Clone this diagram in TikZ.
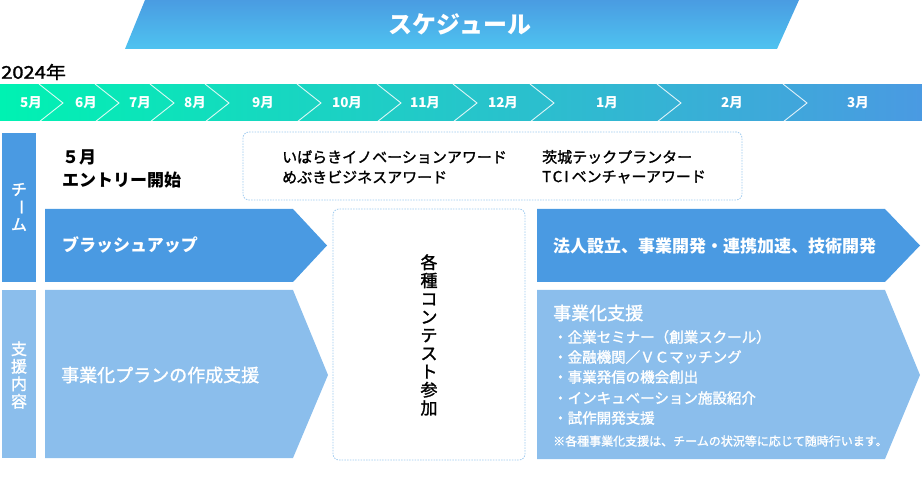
\documentclass[tikz,border=0pt]{standalone}
\usepackage{fontspec}
\setmainfont{Noto Sans CJK JP}
\newfontfamily\medfont{Noto Sans CJK JP}[FakeBold=1.5]
\definecolor{titleTop}{HTML}{4A9CE2}
\definecolor{titleBot}{HTML}{4EC3F0}
\definecolor{tlA}{HTML}{00F2B2}
\definecolor{tlB}{HTML}{22D4C6}
\definecolor{tlC}{HTML}{4A9AE2}
\definecolor{blueD}{HTML}{4A9AE2}
\definecolor{blueL}{HTML}{8BBEEC}
\definecolor{dashc}{HTML}{9DC9EE}
\tikzset{
  chev/.style={draw=white, line width=0.9pt, opacity=0.85},
  month/.style={text=white, font={\fontsize{13.5}{14}\selectfont\bfseries}},
  dashbox/.style={draw=dashc, line width=0.8pt, dash pattern=on 1.5pt off 1.2pt, rounded corners=6pt},
  lefttxt/.style={anchor=west, inner sep=0pt},
  wtxt/.style={text=white},
  vlabel/.style={wtxt, font={\fontsize{16}{17.5}\selectfont\medfont}},
  item/.style={lefttxt, wtxt, font={\fontsize{14.5}{15}\selectfont\medfont}},
}
\begin{document}
\begin{tikzpicture}[x=1pt,y=-1pt, every node/.style={inner sep=0pt}]
\useasboundingbox (0,0) rectangle (922,497);
% title banner
\shade[top color=titleTop, bottom color=titleBot] (145,0) -- (799,0) -- (777,49) -- (125,49) -- cycle;
\node[wtxt, font={\fontsize{24}{24}\selectfont\bfseries}] (title) at (460,24) {スケジュール};
% year
\node[lefttxt, font={\fontsize{17.5}{18}\selectfont\medfont}] (year) at (1,72) {\scalebox{1.15}[1]{2024年}};
% timeline
\shade[left color=tlA, middle color=tlB, right color=tlC] (0,85) rectangle (922,121);
\foreach \cx in {39,95,150,205,297,377,453,530,657,783}{
  \draw[chev] (\cx,84) -- (\cx+24,103) -- (\cx,122);
}
\node[month] (m5) at (31,103) {5月};
\node[month] (m6) at (86,103) {6月};
\node[month] (m7) at (140,103) {7月};
\node[month] (m8) at (195,103) {8月};
\node[month] (m9) at (263,103) {9月};
\node[month] (m10) at (347,103) {10月};
\node[month] (m11) at (425,103) {11月};
\node[month] (m12) at (503,103) {12月};
\node[month] (m1) at (607,103) {1月};
\node[month] (m2) at (732,103) {2月};
\node[month] (m3) at (858,103) {3月};
% left labels
\fill[blueD] (2,133) rectangle (36,282);
\fill[blueL] (2,290) rectangle (36,458);
\node[vlabel] (teamA) at (19,189.5) {チ};
\node[vlabel, rotate=-90] (teamB) at (19,207) {ー};
\node[vlabel] (teamC) at (19,224.5) {ム};
\node[vlabel, align=center] (shien) at (19,375) {支\\援\\内\\容};
% entry text
\node[lefttxt, font={\fontsize{17}{17}\selectfont\bfseries}] (may) at (62,157) {５月};
\node[lefttxt, font={\fontsize{17}{17}\selectfont\bfseries}] (entry) at (62,180) {エントリー開始};
% awards box
\draw[dashbox] (243,132) rectangle (742,200);
\node[lefttxt, font={\fontsize{15}{15}\selectfont\medfont}] (aw1) at (282,157) {いばらきイノベーションアワード};
\node[lefttxt, font={\fontsize{15}{15}\selectfont\medfont}] (aw2) at (282,177) {めぶきビジネスアワード};
\node[lefttxt, font={\fontsize{15}{15}\selectfont\medfont}] (aw3) at (542,157) {茨城テックプランター};
\node[lefttxt, font={\fontsize{15}{15}\selectfont\medfont}] (aw4) at (542,177) {T\hspace{1.5pt}C\hspace{2pt}I\hspace{3pt}ベンチャーアワード};
% left arrows
\fill[blueD] (45,209) -- (293,209) -- (327,245.5) -- (293,282) -- (45,282) -- cycle;
\fill[blueL] (45,290) -- (293,290) -- (328,375) -- (293,458) -- (45,458) -- cycle;
\node[lefttxt, wtxt, font={\fontsize{17}{17}\selectfont\bfseries}] (brush) at (62,245) {ブラッシュアップ};
\node[lefttxt, wtxt, font={\fontsize{18}{18}\selectfont\medfont}] (plan) at (61,375) {事業化プランの作成支援};
% contest box
\draw[dashbox] (333,209) rectangle (525,460);
\node[align=center, font={\fontsize{17}{18.2}\selectfont\medfont}] (contest) at (429,335) {各\\種\\コ\\ン\\テ\\ス\\ト\\参\\加};
% right arrows
\fill[blueD] (537,209) -- (885,209) -- (920,245.5) -- (885,282) -- (537,282) -- cycle;
\fill[blueL] (537,290) -- (885,290) -- (920,375) -- (885,459) -- (537,459) -- cycle;
\node[lefttxt, wtxt, font={\fontsize{17}{17}\selectfont\bfseries}] (corp) at (553,246) {法人設立、事業開発・連携加速、技術開発};
\node[lefttxt, wtxt, font={\fontsize{18}{18}\selectfont\medfont}] (jg) at (553,313) {事業化支援};
\node[item] (i1) at (553,337) {・企業セミナー（創業スクール）};
\node[item] (i2) at (553,357) {・金融機関／ＶＣマッチング};
\node[item] (i3) at (553,377) {・事業発信の機会創出};
\node[item] (i4) at (553,398) {・インキュベーション施設紹介};
\node[item] (i5) at (553,418) {・試作開発支援};
\node[lefttxt, wtxt, font={\fontsize{12}{12}\selectfont\medfont}] (note) at (553,441) {※各種事業化支援は、チームの状況等に応じて随時行います。};
\end{tikzpicture}
\end{document}
